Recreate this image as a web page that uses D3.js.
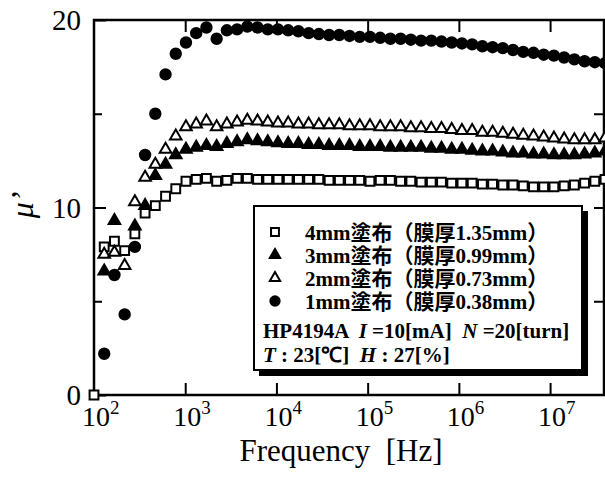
<!DOCTYPE html>
<meta charset='utf-8'>
<title>Permeability vs frequency</title>
<style>
html, body {
  margin: 0;
  padding: 0;
  background: #fff;
}
svg text { fill: #000; }
</style>
<script src='https://d3js.org/d3.v7.min.js'></script>
<body>
<svg id='chart' width='605' height='484'></svg>
<script>
// Sweep frequencies [Hz] (51 points, 100 Hz .. 40 MHz)
var freqs = [100, 129.4, 167.5, 216.8, 280.6, 363.2, 470.1, 608.5, 787.6, 1019,
  1320, 1708, 2211, 2862, 3704, 4794, 6205, 8032, 10396, 13456,
  17416, 22542, 29177, 37765, 48880, 63266, 81887, 105990, 137180, 177560,
  229820, 297470, 385020, 498340, 645020, 834870, 1080600, 1398600, 1810300, 2343100,
  3032700, 3925400, 5080700, 6576000, 8511500, 11017000, 14259000, 18456000, 23888000, 30918000,
  40000000];

// mu' readings per sample, null where no marker is visible
var mu4mm = [0, 7.9, 8.2, 7.7, 8.6, 9.7, 10.1, 10.6, 11.0, 11.4,
  11.5, 11.55, 11.4, 11.45, 11.55, 11.55, 11.5, 11.5, 11.5, 11.5,
  11.5, 11.5, 11.5, 11.45, 11.45, 11.45, 11.45, 11.4, 11.45, 11.45,
  11.4, 11.4, 11.35, 11.35, 11.35, 11.3, 11.3, 11.3, 11.25, 11.25,
  11.2, 11.2, 11.15, 11.1, 11.1, 11.1, 11.15, 11.2, 11.3, 11.4,
  11.5];
var mu3mm = [null, 6.6, 9.3, null, 9.0, 10.1, 11.7, 12.3, 12.8, 13.1,
  13.2, 13.3, 13.25, 13.4, 13.5, 13.6, 13.55, 13.5, 13.45, 13.4,
  13.4, 13.35, 13.35, 13.3, 13.3, 13.3, 13.25, 13.25, 13.25, 13.2,
  13.2, 13.2, 13.2, 13.15, 13.15, 13.1, 13.1, 13.05, 13.0, 13.0,
  12.95, 12.9, 12.9, 12.85, 12.85, 12.8, 12.8, 12.8, 12.85, 12.9,
  13.0];
var mu2mm = [null, 7.5, 7.6, 6.9, 10.3, 11.6, 12.3, 13.1, 13.8, 14.3,
  14.45, 14.6, 14.3, 14.45, 14.55, 14.65, 14.6, 14.55, 14.5, 14.5,
  14.45, 14.45, 14.4, 14.4, 14.4, 14.35, 14.35, 14.35, 14.3, 14.3,
  14.3, 14.25, 14.25, 14.2, 14.2, 14.15, 14.1, 14.1, 14.0, 14.0,
  13.95, 13.9, 13.85, 13.8, 13.75, 13.7, 13.65, 13.6, 13.6, 13.6,
  13.7];
var mu1mm = [null, 2.2, 6.4, 4.3, 7.9, 12.8, 15.0, 17.1, 18.2, 18.8,
  19.3, 19.6, 19.0, 19.45, 19.5, 19.65, 19.6, 19.5, 19.5, 19.45,
  19.4, 19.3, 19.25, 19.2, 19.2, 19.15, 19.1, 19.1, 19.05, 19.0,
  19.0, 18.95, 18.9, 18.9, 18.85, 18.8, 18.75, 18.7, 18.6, 18.55,
  18.5, 18.4, 18.3, 18.25, 18.15, 18.1, 18.0, 17.9, 17.8, 17.75,
  17.7];

var seriesNames = ['4mm塗布（膜厚1.35mm）', '3mm塗布（膜厚0.99mm）',
                   '2mm塗布（膜厚0.73mm）', '1mm塗布（膜厚0.38mm）'];
var decades = [1e2, 1e3, 1e4, 1e5, 1e6, 1e7];
var decadeExp = ['2', '3', '4', '5', '6', '7'];
var yMajor = [0, 10, 20];
var yMinor = [5, 15];

var serif = "'Liberation Serif', serif";
var cjk = "'Liberation Serif', 'Noto Sans CJK JP', serif";

var svg = d3.select('#chart');

var x = d3.scaleLog().domain([100, 4e7]).range([94, 605]);
var y = d3.scaleLinear().domain([0, 20]).range([395, 20]);

// marker styles, same order as seriesNames
var markers = [
  { type: d3.symbolSquare,   size: 78, fill: '#fff' },
  { type: d3.symbolTriangle, size: 58, fill: '#000' },
  { type: d3.symbolTriangle, size: 58, fill: '#fff' },
  { type: d3.symbolCircle,   size: 85, fill: '#000' }
];
var seriesData = [mu4mm, mu3mm, mu2mm, mu1mm];

// Frame
svg.append('rect')
  .attr('x', x(100)).attr('y', y(20))
  .attr('width', 604 - x(100)).attr('height', y(0) - y(20))
  .attr('fill', 'none').attr('stroke', '#000').attr('stroke-width', 2.5);

// Decade ticks, inward on top and bottom
svg.append('g')
  .attr('transform', 'translate(0,' + y(0) + ')')
  .call(d3.axisBottom(x).tickValues(decades.slice(1)).tickSize(-12).tickFormat(''))
  .call(g => g.select('.domain').remove())
  .selectAll('line').attr('stroke-width', 2);
svg.append('g')
  .attr('transform', 'translate(0,' + y(20) + ')')
  .call(d3.axisTop(x).tickValues(decades.slice(1)).tickSize(-12).tickFormat(''))
  .call(g => g.select('.domain').remove())
  .selectAll('line').attr('stroke-width', 2);

// Y ticks
var yAxis = svg.append('g')
  .attr('transform', 'translate(' + x(100) + ',0)')
  .call(d3.axisLeft(y).tickValues(yMajor).tickSize(-12).tickPadding(13).tickFormat(d3.format('d')))
  .call(g => g.select('.domain').remove());
yAxis.selectAll('line').attr('stroke-width', 2);
yAxis.selectAll('text')
  .attr('font-family', serif).attr('font-size', 29).attr('dy', '0.33em');
svg.append('g')
  .attr('transform', 'translate(' + x(100) + ',0)')
  .call(d3.axisLeft(y).tickValues(yMinor).tickSize(-8).tickFormat(''))
  .call(g => g.select('.domain').remove())
  .selectAll('line').attr('stroke-width', 2);
svg.append('g')
  .attr('transform', 'translate(604,0)')
  .call(d3.axisRight(y).tickValues([5, 10, 15]).tickSize(-10).tickFormat(''))
  .call(g => g.select('.domain').remove())
  .selectAll('line').attr('stroke-width', 2);

// X tick labels 10^n, the "10" roughly centred on the tick
var xl = svg.append('g').selectAll('text')
  .data(decades)
  .enter().append('text')
  .attr('x', d => x(d) - 12)
  .attr('y', 426)
  .attr('font-family', serif).attr('font-size', 28);
xl.append('tspan').text('10');
xl.append('tspan')
  .attr('dy', -12).attr('font-size', 19)
  .text((d, i) => decadeExp[i]);

// Axis titles
svg.append('text')
  .attr('x', 341).attr('y', 461)
  .attr('text-anchor', 'middle')
  .attr('font-family', serif).attr('font-size', 31)
  .style('white-space', 'pre')
  .text('Frequency  [Hz]');
svg.append('text')
  .attr('transform', 'translate(33,205)rotate(-90)')
  .attr('text-anchor', 'middle')
  .attr('font-family', serif).attr('font-size', 32).attr('font-style', 'italic')
  .text('μ’');

// Data markers
seriesData.forEach(function (vals, s) {
  var m = markers[s];
  var pts = freqs.map((f, i) => ({ f: f, v: vals[i] })).filter(d => d.v !== null);
  svg.append('g').selectAll('path')
    .data(pts)
    .enter().append('path')
    .attr('transform', d => 'translate(' + x(d.f) + ',' + y(d.v) + ')')
    .attr('d', d3.symbol().type(m.type).size(m.size))
    .attr('fill', m.fill)
    .attr('stroke', '#000')
    .attr('stroke-width', 2);
});

// Legend box with heavy shadow on right and bottom
var lg = svg.append('g');
lg.append('rect')
  .attr('x', 259).attr('y', 211).attr('width', 329).attr('height', 165)
  .attr('fill', '#000');
lg.append('rect')
  .attr('x', 254).attr('y', 206).attr('width', 328).attr('height', 164)
  .attr('fill', '#fff').attr('stroke', '#000').attr('stroke-width', 2);

var rows = lg.selectAll('.row')
  .data(seriesNames)
  .enter().append('g')
  .attr('class', 'row')
  .attr('transform', (d, i) => 'translate(275,' + (232 + i * 23) + ')');
rows.append('path')
  .attr('d', (d, i) => d3.symbol().type(markers[i].type).size(markers[i].size * 0.8)())
  .attr('fill', (d, i) => markers[i].fill)
  .attr('stroke', '#000').attr('stroke-width', 2);
rows.append('text')
  .attr('x', 30).attr('dy', '0.36em')
  .attr('font-family', cjk).attr('font-size', 21).attr('font-weight', 'bold')
  .text(d => d);

var info1 = lg.append('text')
  .attr('x', 263).attr('y', 338)
  .attr('font-family', serif).attr('font-size', 21).attr('font-weight', 'bold')
  .style('white-space', 'pre');
info1.append('tspan').text('HP4194A  ');
info1.append('tspan').attr('font-style', 'italic').text('I');
info1.append('tspan').text(' =10[mA]  ');
info1.append('tspan').attr('font-style', 'italic').text('N');
info1.append('tspan').text(' =20[turn]');

var info2 = lg.append('text')
  .attr('x', 263).attr('y', 362)
  .attr('font-family', serif).attr('font-size', 21).attr('font-weight', 'bold')
  .style('white-space', 'pre');
info2.append('tspan').attr('font-style', 'italic').text('T');
info2.append('tspan').text(' : 23[℃]  ');
info2.append('tspan').attr('font-style', 'italic').text('H');
info2.append('tspan').text(' : 27[%]');
</script>
</body>
